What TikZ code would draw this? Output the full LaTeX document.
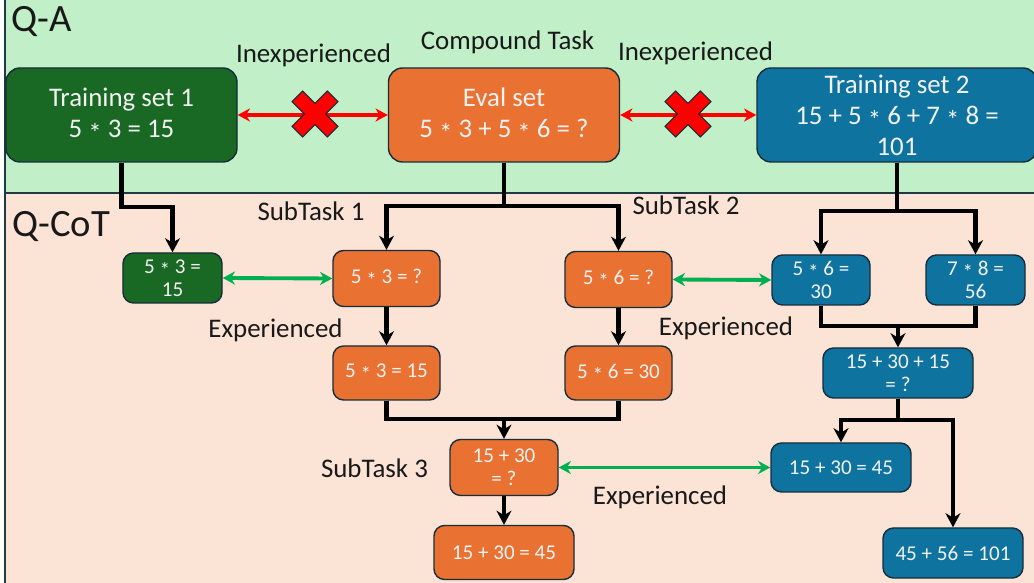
\documentclass[tikz,border=0pt]{standalone}
\usepackage{fontspec}
\setmainfont{Carlito}
\usetikzlibrary{arrows.meta}
\definecolor{qabg}{RGB}{193,240,200}
\definecolor{cotbg}{RGB}{251,227,214}
\definecolor{tsgreen}{RGB}{25,105,36}
\definecolor{evalorange}{RGB}{233,113,50}
\definecolor{tsblue}{RGB}{14,116,159}
\definecolor{edge}{RGB}{22,45,60}
\definecolor{frame}{RGB}{34,58,70}
\definecolor{boxtxt}{RGB}{242,242,242}
\definecolor{labtxt}{RGB}{25,25,25}
\definecolor{xred}{RGB}{255,0,0}
\definecolor{xgreen}{RGB}{0,176,80}
\newcommand{\mult}{\raisebox{-0.4ex}{*}}
\tikzset{
  bigbox/.style={draw=edge, line width=0.8pt, fill=#1, rounded corners=8pt, text=boxtxt, align=center,
    font=\fontsize{15.3}{17.6}\selectfont, inner sep=1pt, minimum width=46.2mm, minimum height=18.8mm},
  smallbox/.style={draw=edge, line width=0.8pt, fill=#1, rounded corners=6pt, text=boxtxt, align=center,
    font=\fontsize{12}{13.2}\selectfont, inner sep=1pt, minimum width=21.4mm, minimum height=11.2mm},
  flow/.style={-{Stealth[length=8pt,width=8.5pt,inset=2.5pt]}, line width=2.3pt},
  joinline/.style={line width=2.3pt},
  nogo/.style={{Stealth[length=7pt,width=7.5pt]}-{Stealth[length=7pt,width=7.5pt]}, line width=2.4pt, draw=xred},
  same/.style={{Stealth[length=7pt,width=7.5pt]}-{Stealth[length=7pt,width=7.5pt]}, line width=2.2pt, draw=xgreen},
  lab/.style={font=\fontsize{15.3}{17}\selectfont, text=labtxt, anchor=base, inner sep=0pt},
  zone/.style={font=\fontsize{22}{24}\selectfont, text=labtxt, anchor=base west, inner sep=0pt},
  redcross/.pic={
    \filldraw[fill=xred, draw=edge, line width=0.6pt, rotate=45]
      (25,7.5) -- (7.5,7.5) -- (7.5,25) -- (-7.5,25) -- (-7.5,7.5) -- (-25,7.5)
      -- (-25,-7.5) -- (-7.5,-7.5) -- (-7.5,-25) -- (7.5,-25) -- (7.5,-7.5) -- (25,-7.5) -- cycle;
  },
}
\begin{document}
\begin{tikzpicture}[x=0.2mm, y=-0.2mm]
  \useasboundingbox (0,0) rectangle (1034,583);
  % two bands
  \fill[qabg] (5,-10) rectangle (1045,193);
  \fill[cotbg] (5,193) rectangle (1045,595);
  \draw[frame, line width=1.2pt] (5,-10) -- (5,595);
  \draw[frame, line width=1.2pt] (5,193) -- (1045,193);
  \node[zone] (qa) at (11,32) {Q-A};
  \node[zone] (qcot) at (12,237) {Q-CoT};

  % Q-A row
  \node[bigbox=tsgreen] (ts1) at (121.5,115) {Training set 1\\5 \mult{} 3 = 15};
  \node[bigbox=evalorange] (eval) at (504,115) {Eval set\\5 \mult{} 3 + 5 \mult{} 6 = ?};
  \node[bigbox=tsblue, minimum width=56mm] (ts2) at (897,115) {Training set 2\\15 + 5 \mult{} 6 + 7 \mult{} 8 =\\101};
  \node[lab] (cmp) at (507.5,50) {Compound Task};
  \node[lab] (inexp1) at (313.5,63) {Inexperienced};
  \node[lab] (inexp2) at (695.5,61) {Inexperienced};
  \draw[nogo] (ts1.east) -- (eval.west);
  \draw[nogo] (eval.east) -- (ts2.west);
  \pic at (315,114) {redcross};
  \pic at (688,114) {redcross};

  % Q-CoT: sub tasks
  \node[smallbox=tsgreen, minimum width=19.8mm, minimum height=10mm] (g1) at (172.5,278) {5 \mult{} 3 =\\15};
  \node[smallbox=evalorange] (q1) at (386.5,278.5) {5 \mult{} 3 = ?};
  \node[smallbox=evalorange, minimum height=10.8mm] (a1) at (386.5,373) {5 \mult{} 3 = 15};
  \node[smallbox=evalorange] (q2) at (618.5,279.5) {5 \mult{} 6 = ?};
  \node[smallbox=evalorange, minimum height=10.8mm] (a2) at (618.5,373) {5 \mult{} 6 = 30};
  \node[smallbox=evalorange, minimum width=21.6mm] (q3) at (504,467.5) {15 + 30\\= ?};
  \node[smallbox=evalorange, minimum width=28mm, minimum height=10.8mm] (a3) at (504,552.5) {15 + 30 = 45};
  \node[smallbox=tsblue, minimum width=19.6mm, minimum height=10mm] (b1) at (821,280) {5 \mult{} 6 =\\30};
  \node[smallbox=tsblue, minimum width=19.8mm, minimum height=10mm] (b2) at (975.5,280) {7 \mult{} 8 =\\56};
  \node[smallbox=tsblue, minimum width=30mm, minimum height=10mm] (bsum) at (898,373) {15 + 30 + 15\\= ?};
  \node[smallbox=tsblue, minimum width=28mm, minimum height=9.8mm] (b45) at (841,467.5) {15 + 30 = 45};
  \node[smallbox=tsblue, minimum width=28mm, minimum height=10mm] (b101) at (953,553) {45 + 56 = 101};

  \node[lab] (st1) at (311,221) {SubTask 1};
  \node[lab] (st2) at (686,215) {SubTask 2};
  \node[lab] (st3) at (374.5,478) {SubTask 3};
  \node[lab] (exp1) at (275.5,338) {Experienced};
  \node[lab] (exp2) at (726,336) {Experienced};
  \node[lab] (exp3) at (660,505) {Experienced};

  % splitting into sub tasks
  \draw[flow] (ts1.south) -- ++(0,44) -| (g1.north);
  \draw[flow] (eval.south) -- ++(0,43) -| (q1.north);
  \draw[flow] (eval.south) -- ++(0,43) -| (q2.north);
  \draw[flow] (ts2.south) -- ++(0,48) -| (b1.north);
  \draw[flow] (ts2.south) -- ++(0,48) -| (b2.north);
  \draw[flow] (q1) -- (a1);
  \draw[flow] (q2) -- (a2);
  \draw[flow] (q3) -- (a3);

  % merging partial results
  \coordinate (ja) at (504,419);
  \draw[joinline] (a1.south) |- (ja) -| (a2.south);
  \draw[flow] (ja) -- (q3.north);
  \coordinate (jb) at (898,326);
  \draw[joinline] (b1.south) |- (jb) -| (b2.south);
  \draw[flow] (jb) -- (bsum.north);
  \draw[flow] (bsum.south) -- ++(0,21) -| (b45.north);
  \draw[flow] (bsum.south) -- ++(0,21) -| (b101.north);

  % seen in training
  \draw[same] (g1.east) -- (q1.west);
  \draw[same] (q2.east) -- (b1.west);
  \draw[same] (q3.east) -- (b45.west);
\end{tikzpicture}
\end{document}
